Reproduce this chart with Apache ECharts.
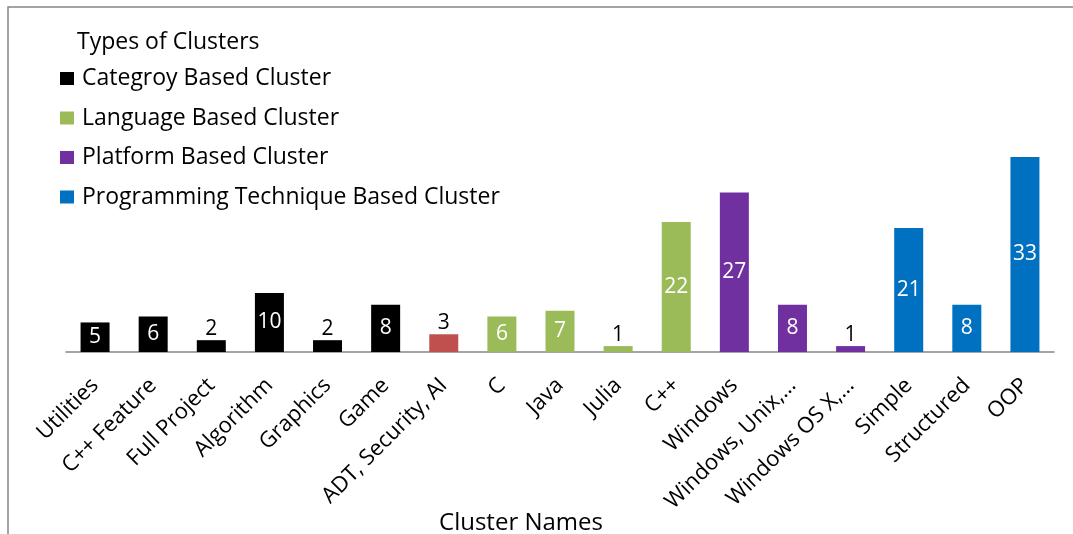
<!DOCTYPE html>
<html>
<head>
<meta charset="utf-8">
<script src="https://cdn.jsdelivr.net/npm/echarts@6/dist/echarts.min.js"></script>
<style>
  html, body { margin: 0; padding: 0; background: #fff; }
  #main { width: 1073px; height: 534px; }
</style>
</head>
<body>
<div id="main"></div>
<script>
var categories = ['Utilities', 'C++ Feature', 'Full Project', 'Algorithm', 'Graphics', 'Game',
  'ADT, Security, AI', 'C', 'Java', 'Julia', 'C++', 'Windows', 'Windows, Unix,\u2026',
  'Windows OS X,\u2026', 'Simple', 'Structured', 'OOP'];

// one array per cluster type, null where the category belongs elsewhere
var categoryBased = [5, 6, 2, 10, 2, 8, null, null, null, null, null, null, null, null, null, null, null];
var otherBased = [null, null, null, null, null, null, 3, null, null, null, null, null, null, null, null, null, null];
var languageBased = [null, null, null, null, null, null, null, 6, 7, 1, 22, null, null, null, null, null, null];
var platformBased = [null, null, null, null, null, null, null, null, null, null, null, 27, 8, 1, null, null, null];
var techniqueBased = [null, null, null, null, null, null, null, null, null, null, null, null, null, null, 21, 8, 33];

var legendNames = ['Categroy Based Cluster', 'Language Based Cluster', 'Platform Based Cluster',
  'Programming Technique Based Cluster'];

var FONT = 'Open Sans';
var FS = 23;        // legend, title
var LABEL_FS = 21;  // values
var CAT_FS = 22;    // category labels
var chart = echarts.init(document.getElementById('main'));

// values of 5 and more: white label centred in the bar
function bigBars(name, data, color) {
  return {
    name: name,
    type: 'bar',
    stack: 'all',
    data: data.map(function (v) { return v != null && v >= 5 ? v : null; }),
    barWidth: 29,
    itemStyle: { color: color },
    label: {
      show: true, position: 'inside', color: '#fff',
      fontFamily: FONT, fontSize: LABEL_FS
    }
  };
}

// small values: black label above the bar
function smallBars(name, data, color) {
  return {
    name: name,
    type: 'bar',
    stack: 'all',
    data: data.map(function (v) { return v != null && v < 5 ? v : null; }),
    barWidth: 29,
    itemStyle: { color: color },
    label: {
      show: true, position: 'top', distance: 1, color: '#000',
      fontFamily: FONT, fontSize: LABEL_FS
    }
  };
}

var groups = [
  ['Categroy Based Cluster', categoryBased, '#000000'],
  ['Other', otherBased, '#C0504D'],
  ['Language Based Cluster', languageBased, '#9BBB59'],
  ['Platform Based Cluster', platformBased, '#7030A0'],
  ['Programming Technique Based Cluster', techniqueBased, '#0070C0']
];

var series = [];
groups.forEach(function (g) {
  series.push(bigBars(g[0], g[1], g[2]));
  series.push(smallBars(g[0], g[1], g[2]));
});

var option = {
  animation: false,
  textStyle: { fontFamily: FONT },
  title: {
    text: 'Types of Clusters',
    left: 72, top: 26,
    textStyle: { fontFamily: FONT, fontSize: FS, fontWeight: 'normal', color: '#000' }
  },
  legend: {
    data: legendNames,
    orient: 'vertical',
    left: 55, top: 62,
    icon: 'rect',
    itemWidth: 14, itemHeight: 13,
    itemGap: 16.5,
    textStyle: { fontFamily: FONT, fontSize: FS, color: '#000', lineHeight: 23, padding: [0, 0, 0, 3] }
  },
  graphic: [{
    type: 'rect',
    shape: { x: 8, y: 7, width: 1200, height: 700 },
    style: { fill: 'none', stroke: '#868686', lineWidth: 1.5 },
    silent: true
  }],
  grid: { left: 66, right: 19, top: 157, bottom: 182, outerBoundsMode: 'none' },
  xAxis: {
    type: 'category',
    data: categories,
    name: 'Cluster Names',
    nameLocation: 'middle',
    nameGap: 159,
    nameMoveOverlap: false,
    nameTextStyle: { fontFamily: FONT, fontSize: 24, color: '#000', padding: [0, 78, 0, 0] },
    axisLine: { lineStyle: { color: '#868686', width: 1.5 } },
    axisTick: { show: false },
    axisLabel: {
      rotate: 45, interval: 0, margin: 30,
      fontFamily: FONT, fontSize: CAT_FS, color: '#000'
    }
  },
  yAxis: {
    type: 'value', min: 0, max: 33, show: false,
    splitLine: { show: false }
  },
  series: series
};

chart.setOption(option);
</script>
</body>
</html>
